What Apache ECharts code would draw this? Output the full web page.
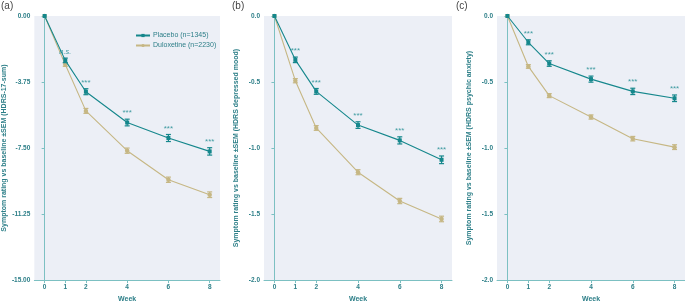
<!DOCTYPE html>
<html><head><meta charset="utf-8">
<script src="https://cdn.jsdelivr.net/npm/echarts@6/dist/echarts.min.js"></script>
<style>html,body{margin:0;padding:0;background:#fff}#c{width:685px;height:308px}</style>
</head><body><div id="c"></div>
<script>
var weeks = [0, 1, 2, 4, 6, 8];
var weekTicks = [0, 1, 2, 4, 6, 8];
var placeboName = 'Placebo (n=1345)';
var duloxName = 'Duloxetine (n=2230)';

var aPlacebo = [0, -2.52, -4.30, -6.05, -6.93, -7.69];
var aPlaceboSem = [0, 0.13, 0.17, 0.19, 0.2, 0.21];
var aDulox = [0, -2.76, -5.39, -7.65, -9.30, -10.15];
var aDuloxSem = [0, 0.1, 0.14, 0.15, 0.15, 0.16];
var aSig = ['', 'n.s.', '***', '***', '***', '***'];

var bPlacebo = [0, -0.332, -0.571, -0.826, -0.942, -1.089];
var bPlaceboSem = [0, 0.021, 0.022, 0.025, 0.027, 0.029];
var bDulox = [0, -0.49, -0.848, -1.183, -1.401, -1.537];
var bDuloxSem = [0, 0.016, 0.018, 0.019, 0.02, 0.021];
var bSig = ['', '***', '***', '***', '***', '***'];

var cPlacebo = [0, -0.199, -0.36, -0.478, -0.571, -0.623];
var cPlaceboSem = [0, 0.019, 0.021, 0.023, 0.024, 0.025];
var cDulox = [0, -0.382, -0.603, -0.765, -0.929, -0.993];
var cDuloxSem = [0, 0.014, 0.015, 0.016, 0.017, 0.018];
var cSig = ['', '***', '***', '***', '***', '***'];

var yNames = [
  'Symptom rating vs baseline \u00b1SEM (HDRS-17-sum)',
  'Symptom rating vs baseline \u00b1SEM (HDRS depressed mood)',
  'Symptom rating vs baseline \u00b1SEM (HDRS psychic anxiety)'
];
var panelLabels = ['(a)', '(b)', '(c)'];

var cPlaceboColor = '#15878c';
var cDuloxColor = '#c6b784';
var axisColor = '#7cc0c2';
var textColor = '#2d7f88';
var bg = '#eceff6';

var chart = echarts.init(document.getElementById('c'));

var grids = [
  {left: 32, top: 16, width: 188, height: 272},
  {left: 264, top: 16, width: 188, height: 271},
  {left: 497, top: 16, width: 188, height: 272}
];
var yCfg = [
  {min: -15, max: 0, interval: 3.75, dec: 2},
  {min: -2, max: 0, interval: 0.5, dec: 1},
  {min: -2, max: 0, interval: 0.5, dec: 1}
];
var panels = [
  [aPlacebo, aPlaceboSem, aDulox, aDuloxSem, aSig],
  [bPlacebo, bPlaceboSem, bDulox, bDuloxSem, bSig],
  [cPlacebo, cPlaceboSem, cDulox, cDuloxSem, cSig]
];

function pairs(vals) { return weeks.map(function (w, i) { return [w, vals[i]]; }); }
function errData(vals, sem) {
  var d = [];
  weeks.forEach(function (w, i) { if (sem[i] > 0) d.push([w, vals[i] - sem[i], vals[i] + sem[i]]); });
  return d;
}
function errRender(color) {
  return function (params, api) {
    var x = api.value(0);
    var lo = api.coord([x, api.value(1)]);
    var hi = api.coord([x, api.value(2)]);
    var hw = 2.5;
    var st = {stroke: color, lineWidth: 1.2};
    return {type: 'group', children: [
      {type: 'line', shape: {x1: lo[0], y1: lo[1], x2: hi[0], y2: hi[1]}, style: st},
      {type: 'line', shape: {x1: lo[0] - hw, y1: lo[1], x2: lo[0] + hw, y2: lo[1]}, style: st},
      {type: 'line', shape: {x1: hi[0] - hw, y1: hi[1], x2: hi[0] + hw, y2: hi[1]}, style: st}
    ]};
  };
}

var xAxes = [], yAxes = [], series = [];
grids.forEach(function (g, k) {
  g.show = true; g.backgroundColor = bg; g.borderWidth = 0;
  xAxes.push({
    type: 'value', gridIndex: k, min: -0.5, max: 8.5,
    name: 'Week', nameLocation: 'middle', nameGap: 14,
    nameTextStyle: {color: textColor, fontSize: 7, fontWeight: 'bold', fontFamily: 'Liberation Sans'},
    axisLine: {show: true, onZero: false, lineStyle: {color: axisColor, width: 1}},
    axisTick: {show: true, length: 3, customValues: weekTicks, lineStyle: {color: axisColor}},
    axisLabel: {customValues: weekTicks, color: textColor, fontSize: 6.5, fontWeight: 'bold', margin: 4, fontFamily: 'Liberation Sans'},
    splitLine: {show: false}
  });
  var yc = yCfg[k];
  yAxes.push({
    type: 'value', gridIndex: k, min: yc.min, max: yc.max, interval: yc.interval,
    name: yNames[k], nameLocation: 'middle', nameGap: 24, nameRotate: 90,
    nameTextStyle: {color: textColor, fontSize: 7, fontWeight: 'bold', fontFamily: 'Liberation Sans'},
    axisLine: {show: true, lineStyle: {color: axisColor, width: 1}},
    axisTick: {show: true, length: 3, lineStyle: {color: axisColor}},
    axisLabel: {color: textColor, fontSize: 6.5, fontWeight: 'bold', margin: 4, fontFamily: 'Liberation Sans',
      formatter: function (v) { return v.toFixed(yc.dec); }},
    splitLine: {show: false}
  });
  var p = panels[k];
  series.push({
    type: 'line', name: duloxName, xAxisIndex: k, yAxisIndex: k, data: pairs(p[2]),
    symbol: 'circle', symbolSize: 4.5, showSymbol: true,
    itemStyle: {color: cDuloxColor}, lineStyle: {color: cDuloxColor, width: 1.1}, z: 2, silent: true
  });
  series.push({
    type: 'custom', name: duloxName, xAxisIndex: k, yAxisIndex: k, data: errData(p[2], p[3]),
    renderItem: errRender(cDuloxColor), z: 3, silent: true
  });
  series.push({
    type: 'line', name: placeboName, xAxisIndex: k, yAxisIndex: k, data: pairs(p[0]),
    symbol: 'rect', symbolSize: 4, showSymbol: true,
    itemStyle: {color: cPlaceboColor}, lineStyle: {color: cPlaceboColor, width: 1.1}, z: 4, silent: true
  });
  series.push({
    type: 'custom', name: placeboName, xAxisIndex: k, yAxisIndex: k, data: errData(p[0], p[1]),
    renderItem: errRender(cPlaceboColor), z: 5, silent: true
  });
  var sigData = [];
  weeks.forEach(function (w, i) { if (p[4][i]) sigData.push({value: [w, p[0][i] + p[1][i]], txt: p[4][i]}); });
  series.push({
    type: 'scatter', xAxisIndex: k, yAxisIndex: k, symbolSize: 0, data: sigData, silent: true, z: 6,
    label: {show: true, position: 'top', distance: 2, color: cPlaceboColor, fontSize: 8,
      fontFamily: 'Liberation Sans',
      formatter: function (d) { return d.data.txt === 'n.s.' ? '{i|n.s.}' : d.data.txt; },
      rich: {i: {fontStyle: 'italic', fontSize: 7.5, color: cPlaceboColor, fontFamily: 'Liberation Sans'}}}
  });
});

var graphics = panelLabels.map(function (t, k) {
  var xs = [1, 232, 456];
  return {type: 'text', left: xs[k], top: 1, style: {text: t, fill: '#444', fontSize: 10, fontFamily: 'Liberation Sans'}};
});

chart.setOption({
  animation: false,
  grid: grids,
  xAxis: xAxes,
  yAxis: yAxes,
  series: series,
  graphic: graphics,
  legend: {
    data: [placeboName, duloxName], left: 130, top: 27, orient: 'vertical',
    itemWidth: 14, itemHeight: 4, itemGap: 3, selectedMode: false,
    textStyle: {color: textColor, fontSize: 7, fontFamily: 'Liberation Sans', padding: [0, 0, 0, -2]}
  }
});
</script>
</body></html>
